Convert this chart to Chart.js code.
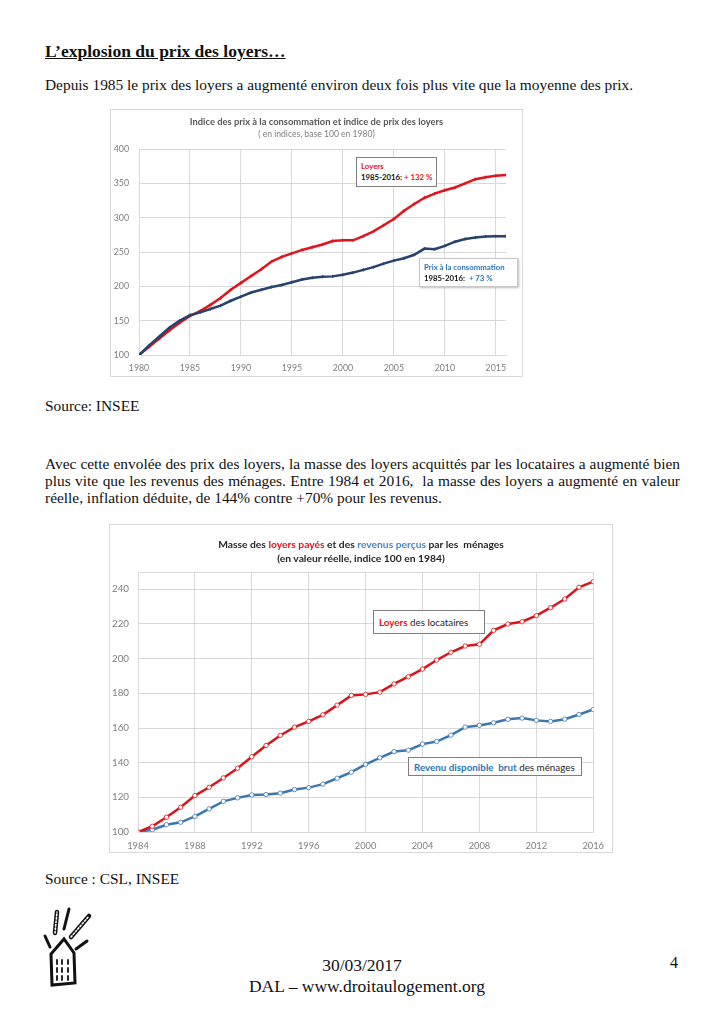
<!DOCTYPE html>
<html lang="fr">
<head>
<meta charset="utf-8">
<title>L'explosion du prix des loyers</title>
<script src="https://cdn.jsdelivr.net/npm/chart.js@4.4.1/dist/chart.umd.min.js"></script>
<style>
  html, body { margin: 0; padding: 0; background: #fff; }
  body { width: 724px; height: 1024px; position: relative; overflow: hidden;
         font-family: "Liberation Serif", "DejaVu Serif", serif; color: #111; }
  .abs { position: absolute; }
  .txt { font-size: 15.4px; white-space: nowrap; }
  .just { text-align: justify; text-align-last: justify; width: 635px; }
  .box { position: absolute; border: 1px solid #d9d9d9; box-sizing: border-box; background: #fff; }
  .cw { position: absolute; left: 0; top: 0; }
  .ttl { position: absolute; left: 0; right: 0; text-align: center; font-family: Lato, sans-serif; white-space: nowrap; }
  .note { position: absolute; background: #fff; font-family: Lato, sans-serif; white-space: nowrap; box-sizing: border-box; }
  .red { color: #e0151b; }
  .blue { color: #2e75b6; }
</style>
</head>
<body>

<div class="abs" style="left:45px; top:41px; font-size:17.5px; font-weight:bold; text-decoration:underline;">L’explosion du prix des loyers…</div>
<div class="abs txt" style="left:45px; top:76px;">Depuis 1985 le prix des loyers a augmenté environ deux fois plus vite que la moyenne des prix.</div>

<!-- graphique 1 -->
<div class="box" style="left:110px; top:109px; width:413px; height:268px;">
  <div class="cw" style="width:411px; height:266px;"><canvas id="graphique-prix"></canvas></div>
  <div class="ttl" style="top:6px; font-size:9.4px; font-weight:bold; color:#595959;">Indice des prix à la consommation et indice de prix des loyers</div>
  <div class="ttl" style="top:19px; font-size:8.6px; color:#7f7f7f;">( en indices, base 100 en 1980)</div>
  <div class="note" style="left:245px; top:47px; width:81px; height:30px; border:1px solid #7f7f7f; font-size:7.8px; font-weight:bold; padding:3px 0 0 4px; line-height:11px;">
    <span class="red">Loyers</span><br>1985-2016: <span class="red">+ 132 %</span>
  </div>
  <div class="note" style="left:308px; top:148px; width:99px; height:29px; border:1px solid #c8c8c8; box-shadow:1px 1px 2px #bbb; font-size:7.8px; font-weight:bold; padding:3px 0 0 4px; line-height:11px;">
    <span class="blue">Prix à la consommation</span><br>1985-2016:&nbsp; <span class="blue">+ 73 %</span>
  </div>
</div>

<div class="abs txt" style="left:45px; top:397px;">Source: INSEE</div>

<div class="abs txt just" style="left:45px; top:455px;">Avec cette envolée des prix des loyers, la masse des loyers acquittés par les locataires a augmenté bien</div>
<div class="abs txt just" style="left:45px; top:472px;">plus vite que les revenus des ménages. Entre 1984 et 2016,&nbsp; la masse des loyers a augmenté en valeur</div>
<div class="abs txt" style="left:45px; top:489px;">réelle, inflation déduite, de 144% contre +70% pour les revenus.</div>

<!-- graphique 2 -->
<div class="box" style="left:109px; top:524px; width:504px; height:329px;">
  <div class="cw" style="width:502px; height:327px;"><canvas id="graphique-masse"></canvas></div>
  <div class="ttl" style="top:13px; font-size:10.3px; font-weight:bold; color:#262626;">Masse des <span class="red">loyers payés</span> et des <span class="blue" style="color:#4a86c0">revenus perçus</span> par les&nbsp; ménages</div>
  <div class="ttl" style="top:27px; font-size:10.3px; font-weight:bold; color:#262626;">(en valeur réelle, indice 100 en 1984)</div>
  <div class="note" style="left:263px; top:85px; width:112px; height:24px; border:1px solid #7f7f7f; font-size:9.8px; padding:5px 0 0 5px; color:#262626;">
    <b class="red">Loyers</b> des locataires
  </div>
  <div class="note" style="left:298px; top:232px; width:174px; height:19px; border:1px solid #7f7f7f; font-size:9.8px; padding:3px 0 0 5px; color:#262626;">
    <b class="blue">Revenu disponible&nbsp; brut</b> des ménages
  </div>
</div>

<div class="abs txt" style="left:45px; top:870px;">Source : CSL, INSEE</div>

<!-- logo -->
<svg class="abs" style="left:40px; top:906px;" width="62" height="82" viewBox="0 0 62 82">
  <g stroke="#111" fill="none" stroke-linecap="round">
    <path d="M5 30 L10 41" stroke-width="3"/>
    <path d="M15 27 L17 6" stroke-width="4.5"/>
    <path d="M15 27 L17 6" stroke-width="1.6" stroke="#fff" stroke-dasharray="1.5 2"/>
    <path d="M24 23 L29 3" stroke-width="3"/>
    <path d="M31 31 L49 10" stroke-width="4.5"/>
    <path d="M31 31 L49 10" stroke-width="1.6" stroke="#fff" stroke-dasharray="1.5 2"/>
    <path d="M36 43 L47 35" stroke-width="3"/>
    <path d="M12 79 L11 48 L24 33 L34 47 L35 77 Z" stroke-width="3"/>
    <path d="M17 54 v4 M22 54 v4 M28 54 v4 M17 62 v4 M22 62 v4 M28 62 v4 M17 70 v4 M22 70 v4 M28 70 v4" stroke-width="1.8"/>
  </g>
</svg>

<div class="abs" style="left:0; width:724px; top:955px; text-align:center; font-size:17.5px;">30/03/2017</div>
<div class="abs" style="left:0; width:734px; top:976px; text-align:center; font-size:17.5px;">DAL – www.droitaulogement.org</div>
<div class="abs" style="left:670px; top:954px; font-size:16px;">4</div>

<script>
// Graphique 1 : indices base 100 en 1980
var annees_prix = [1980, 1981, 1982, 1983, 1984, 1985, 1986, 1987, 1988, 1989,
	1990, 1991, 1992, 1993, 1994, 1995, 1996, 1997, 1998, 1999,
	2000, 2001, 2002, 2003, 2004, 2005, 2006, 2007, 2008, 2009,
	2010, 2011, 2012, 2013, 2014, 2015, 2016];
var indice_loyers = [100, 112, 124, 136, 147, 157, 164, 173, 183, 195,
	205, 215, 225, 236, 243, 248, 253, 257, 261, 266,
	267, 267, 273, 280, 289, 298, 310, 320, 329, 335,
	340, 344, 350, 356, 359, 361, 362];
var indice_consommation = [100, 114, 127, 140, 150, 158, 162, 167, 172, 179,
	185, 191, 195, 199, 202, 206, 210, 212.5, 214, 214.5,
	217, 220, 224, 228, 233, 237.5, 241, 246, 255, 254,
	259, 265, 269, 271, 272.5, 273, 273];
var ticks_annees_prix = [1980, 1985, 1990, 1995, 2000, 2005, 2010, 2015];

// Graphique 2 : masse des loyers et revenus, indice 100 en 1984
var annees_masse = [1984, 1985, 1986, 1987, 1988, 1989, 1990, 1991, 1992, 1993,
	1994, 1995, 1996, 1997, 1998, 1999, 2000, 2001, 2002, 2003,
	2004, 2005, 2006, 2007, 2008, 2009, 2010, 2011, 2012, 2013,
	2014, 2015, 2016];
var masse_loyers = [100, 103.3, 108.5, 114.3, 121, 125.8, 131.2, 136.8, 143.4, 149.9,
	155.7, 160.5, 163.8, 167.6, 173.2, 178.8, 179.4, 180.7, 185.4, 189.6,
	194, 199.2, 203.7, 207.3, 208.3, 216.3, 220, 221.3, 224.8, 229.4,
	234.4, 241.2, 244.4];
var revenu_disponible = [100, 101.3, 104.2, 105.6, 109, 113.3, 117.7, 119.7, 121.4, 121.6,
	122.4, 124.5, 125.6, 127.6, 131, 134.5, 139, 142.8, 146.4, 147.2,
	150.7, 152.2, 155.9, 160.5, 161.5, 163, 165, 165.7, 164.4, 163.8,
	165.1, 167.8, 170.7];
var ticks_annees_masse = [1984, 1988, 1992, 1996, 2000, 2004, 2008, 2012, 2016];

function enPoints(annees, valeurs)
{
	var points = [];
	for (var i = 0; i < annees.length; i++)
		points.push({ x: annees[i], y: valeurs[i] });
	return points;
}

function garderTicks(liste)
{
	return function (scale) {
		scale.ticks = liste.map(function (v) { return { value: v }; });
	};
}

Chart.defaults.font.family = "Lato, sans-serif";
Chart.defaults.color = "#595959";
Chart.defaults.animation = false;

var grille = "#d9d9d9";

new Chart(document.getElementById('graphique-prix').getContext('2d'), {
	type: 'line',
	data: {
		datasets: [{
			label: "Prix à la consommation",
			data: enPoints(annees_prix, indice_consommation),
			borderColor: "#27426d",
			backgroundColor: "#27426d",
			borderWidth: 2.5,
			pointStyle: 'cross',
			pointRadius: 1.6,
			pointBorderWidth: 1,
			fill: false
		}, {
			label: "Loyers",
			data: enPoints(annees_prix, indice_loyers),
			borderColor: "#e0151b",
			backgroundColor: "#e0151b",
			borderWidth: 2.5,
			pointStyle: 'cross',
			pointRadius: 1.6,
			pointBorderWidth: 1,
			fill: false
		}]
	},
	options: {
		responsive: true,
		maintainAspectRatio: false,
		layout: { padding: { top: 39, right: 16, left: 0, bottom: 0 } },
		plugins: { legend: { display: false }, tooltip: { enabled: false } },
		scales: {
			x: {
				type: 'linear',
				min: 1980,
				max: 2016,
				afterBuildTicks: garderTicks(ticks_annees_prix),
				afterFit: function (s) { s.height = 21; },
				grid: { color: grille, drawTicks: false },
				border: { color: grille },
				ticks: { padding: 8, font: { size: 8.8 }, color: "#7f7f7f", maxRotation: 0, callback: function (v) { return String(v); } }
			},
			y: {
				min: 100,
				max: 400,
				afterFit: function (s) { s.width = 28; },
				grid: { color: grille, drawTicks: false },
				border: { display: false },
				ticks: { stepSize: 50, padding: 10, font: { size: 8.8 }, color: "#7f7f7f" }
			}
		}
	}
});

new Chart(document.getElementById('graphique-masse').getContext('2d'), {
	type: 'line',
	data: {
		datasets: [{
			label: "Loyers des locataires",
			data: enPoints(annees_masse, masse_loyers),
			borderColor: "#d9151c",
			borderWidth: 2.5,
			pointRadius: 2.2,
			pointBackgroundColor: "#ffffff",
			pointBorderColor: "#d9151c",
			pointBorderWidth: 0.8,
			fill: false
		}, {
			label: "Revenu disponible brut des ménages",
			data: enPoints(annees_masse, revenu_disponible),
			borderColor: "#3b78b1",
			borderWidth: 2.5,
			pointRadius: 2.2,
			pointBackgroundColor: "#ffffff",
			pointBorderColor: "#3b78b1",
			pointBorderWidth: 0.8,
			fill: false
		}]
	},
	options: {
		responsive: true,
		maintainAspectRatio: false,
		layout: { padding: { top: 47, right: 15, left: 0, bottom: 0 } },
		plugins: { legend: { display: false }, tooltip: { enabled: false } },
		scales: {
			x: {
				type: 'linear',
				min: 1984,
				max: 2016,
				afterBuildTicks: garderTicks(ticks_annees_masse),
				afterFit: function (s) { s.height = 20; },
				grid: { color: grille, drawTicks: false },
				border: { color: grille },
				ticks: { padding: 8, font: { size: 9.3 }, color: "#7f7f7f", maxRotation: 0, callback: function (v) { return String(v); } }
			},
			y: {
				min: 100,
				max: 250,
				afterFit: function (s) { s.width = 28; },
				grid: { color: grille, drawTicks: false },
				border: { display: false },
				ticks: { stepSize: 20, padding: 9, font: { size: 9.8 }, color: "#7f7f7f",
					callback: function (v) { return v === 250 ? '' : v; } }
			}
		}
	}
});
</script>
</body>
</html>
